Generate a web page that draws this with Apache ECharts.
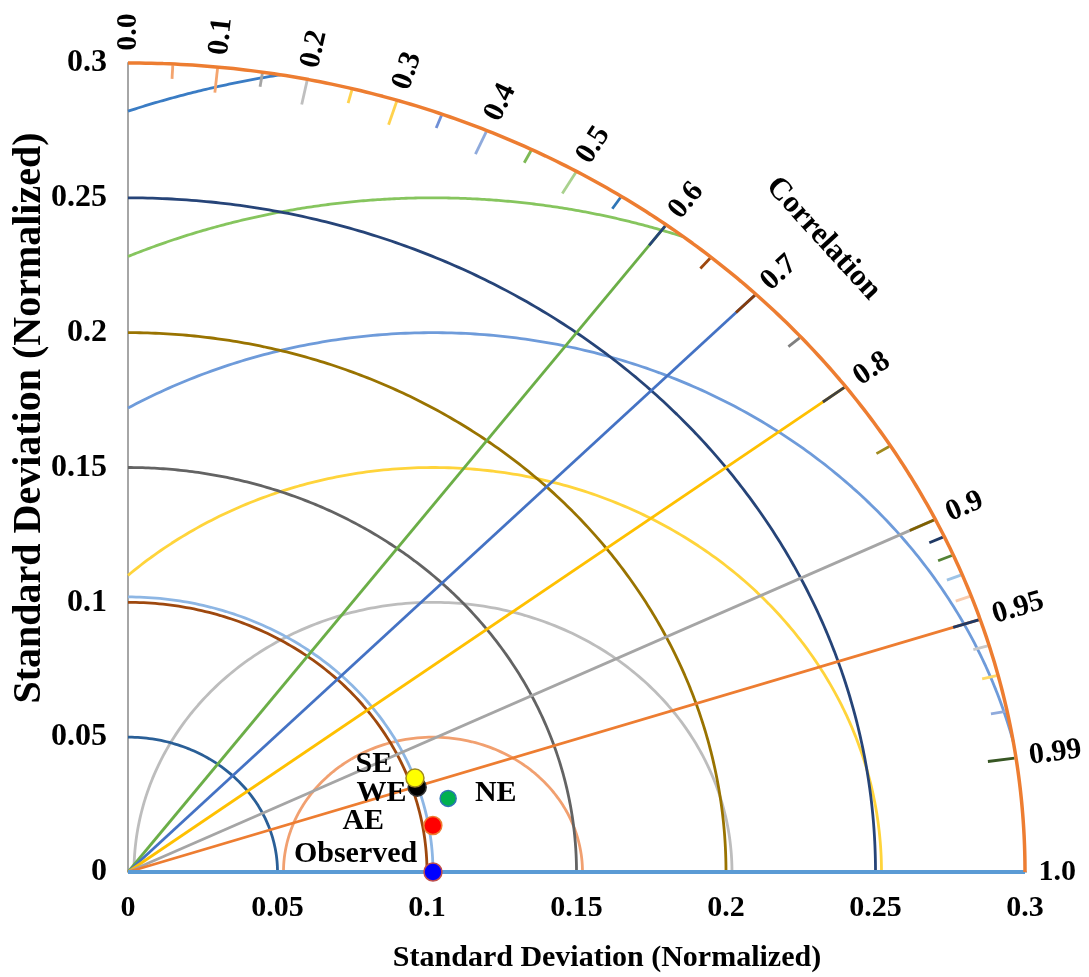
<!DOCTYPE html>
<html><head><meta charset="utf-8">
<script src="https://cdn.jsdelivr.net/npm/echarts@6/dist/echarts.min.js"></script>
<style>html,body{margin:0;padding:0;background:#fff}#c{width:1089px;height:977px}</style>
</head><body><div id="c"></div>
<script>
// ---------------- data ----------------
const axisTicks = [0, 0.05, 0.1, 0.15, 0.2, 0.25, 0.3];
const maxSD = 0.3;
const obsSD = 0.102;
const sdArcs = [0.05, 0.1, 0.15, 0.2, 0.25, 0.3];
const rmsArcs = [0.05, 0.1, 0.15, 0.2, 0.25, 0.3];
const corrLines = [0.6, 0.7, 0.8, 0.9, 0.95];
const corrTicks = [0.05,0.1,0.15,0.2,0.25,0.3,0.35,0.4,0.45,0.5,0.55,0.6,0.65,0.7,0.75,0.8,0.85,0.9,0.91,0.92,0.93,0.94,0.95,0.96,0.97,0.98,0.99];
const corrTickMajor = [0,1,0,1,0,1,0,1,0,1,0,1,0,1,0,1,0,1,0,0,0,0,1,0,0,0,1];
const corrLabelText = ['0.0','0.1','0.2','0.3','0.4','0.5','0.6','0.7','0.8','0.9','0.95','0.99','1.0'];
const corrLabelValues = [0,0.1,0.2,0.3,0.4,0.5,0.6,0.7,0.8,0.9,0.95,0.99,1.0];
const pointNames = ['Observed','AE','NE','WE','SE'];
const pointSD   = [0.102, 0.1034, 0.1105, 0.1017, 0.1021];
const pointCorr = [1.0, 0.986, 0.969, 0.951, 0.940];

// ---------------- styles ----------------
const sdArcColors = ['#2A5F97','#9E480E','#636363','#997300','#264478','#ED7D31'];
const rmsArcColors = ['#F1A070','#BDBDBD','#FFD43B','#6E9BDA','#86C55E','#3A7CC4'];
const corrLineColors = ['#6BAE47','#4472C4','#FFC000','#A5A5A5','#ED7D31'];
const corrTickColors = ['#F4A46E','#F4A46E','#A5A5A5','#BFBFBF','#FFD24D','#FFD24D','#6F8FD6','#8FAADC','#7DB955','#A9D18E','#2E75B6','#264478','#9E480E','#843C0C','#7F7F7F','#404040','#A08A1E','#7F6000','#1F3864','#548235','#9DC3E6','#F8CBAD','#1F3864','#C9C9C9','#FFD966','#8FAADC','#375623'];
const pointFill = ['#0000FF','#FF0000','#00B050','#000000','#FFFF00'];
const pointBorder = ['#C0504D','#ED7D31','#2E75B6','#333333','#A08A1E'];
const pointSize = [18,18,16,18,18];
const pointLabelCfg = [
  {position:'left', distance:6, offset:[0,-18]},
  {position:'left', distance:39, offset:[0,-4]},
  {position:'right', distance:18, offset:[0,-5]},
  {position:'left', distance:1, offset:[0,6]},
  {position:'left', distance:13, offset:[0,-14]}
];
const FONT = '"Liberation Serif","Times New Roman",serif';

// ---------------- geometry helpers ----------------
const N = 240;
function polar(r, c){ const s = Math.sqrt(Math.max(0, 1 - c*c)); return [r*c, r*s]; }
function arcSD(r){
  const pts = [];
  for (let i = 0; i <= N; i++){ const t = Math.PI/2 * i / N; pts.push([r*Math.cos(t), r*Math.sin(t)]); }
  return pts;
}
function arcRMS(R){
  const cmax = Math.min(1, (maxSD*maxSD - obsSD*obsSD - R*R) / (2*obsSD*R));
  const cmin = Math.max(-1, -obsSD / R);
  const p1 = Math.acos(cmax), p2 = Math.acos(cmin);
  const pts = [];
  for (let i = 0; i <= N; i++){ const p = p1 + (p2 - p1) * i / N; pts.push([obsSD + R*Math.cos(p), R*Math.sin(p)]); }
  return pts;
}
function lineSeries(data, color, width, z){
  return {type:'line', data:data, showSymbol:false, symbol:'none', silent:true, clip:false,
          lineStyle:{color:color, width:width}, z:z||2, animation:false};
}

const series = [];
rmsArcs.forEach((R,i)=>series.push(lineSeries(arcRMS(R), rmsArcColors[i], 2.8, 2)));
sdArcs.forEach((r,i)=>{ if (r !== maxSD) series.push(lineSeries(arcSD(r), sdArcColors[i], 2.8, 2)); });
series.push(lineSeries(arcSD(obsSD), '#8DB6E4', 2.8, 2));
corrLines.forEach((c,i)=>series.push(lineSeries([[0,0], polar(maxSD, c)], corrLineColors[i], 2.8, 3)));
series.push(lineSeries([[0,0],[maxSD,0]], '#5B9BD5', 3.8, 3));
series.push(lineSeries([[maxSD,0],[maxSD*1.024,0]], '#A6A6A6', 1.5, 3));
corrTicks.forEach((c,i)=>{
  const L = corrTickMajor[i] ? 0.009 : 0.005;
  series.push(lineSeries([polar(maxSD - 0.0005 - L, c), polar(maxSD - 0.0005, c)], corrTickColors[i], 2.8, 4));
});
series.push(lineSeries(arcSD(maxSD), sdArcColors[sdArcs.indexOf(maxSD)], 3.5, 5));

series.push({
  type:'scatter', z:10, animation:false, silent:true, clip:false,
  data: pointNames.map((n,i)=>({
    name:n, value: polar(pointSD[i], pointCorr[i]),
    symbolSize: pointSize[i],
    itemStyle:{color:pointFill[i], borderColor:pointBorder[i], borderWidth:1.5, opacity:1},
    label:{show:true, formatter:'{b}', position:pointLabelCfg[i].position, distance:pointLabelCfg[i].distance,
           offset:pointLabelCfg[i].offset, fontFamily:FONT, fontWeight:'bold', fontSize:30, color:'#000',
           opacity:1, textBorderWidth:0}
  }))
});

const option = {
  animation:false,
  backgroundColor:'#fff',
  grid:{left:128, top:63, width:897, height:809},
  xAxis:{type:'value', min:axisTicks[0], max:axisTicks[axisTicks.length-1], interval:0.05,
    splitLine:{show:false}, axisTick:{show:false}, axisLine:{show:false},
    axisLabel:{fontFamily:FONT, fontWeight:'bold', fontSize:30, color:'#000', margin:21,
      formatter:(v)=>String(+v.toFixed(2))}},
  yAxis:{type:'value', min:axisTicks[0], max:axisTicks[axisTicks.length-1], interval:0.05,
    splitLine:{show:false}, axisTick:{show:false},
    axisLine:{show:true, lineStyle:{color:'#A6A6A6', width:2}},
    axisLabel:{fontFamily:FONT, fontWeight:'bold', fontSize:32, color:'#000', margin:21,
      formatter:(v)=>String(+v.toFixed(2))}},
  graphic:[
    {type:'text', x:607, y:958, silent:true, style:{text:'Standard Deviation (Normalized)', fontFamily:FONT, fontWeight:'bold', fontSize:30, fill:'#000', align:'center', verticalAlign:'middle'}},
    {type:'text', x:30, y:418, rotation:Math.PI/2, silent:true, style:{text:'Standard Deviation (Normalized)', fontFamily:FONT, fontWeight:'bold', fontSize:40, fill:'#000', align:'center', verticalAlign:'middle'}}
  ],
  series: series
};

const chart = echarts.init(document.getElementById('c'));
chart.setOption(option);

// correlation labels: rotate radially in pixel space
const o = chart.convertToPixel({gridIndex:0}, [0,0]);
function pixAngle(pt){
  const p = chart.convertToPixel({gridIndex:0}, pt);
  return Math.atan2(-(p[1]-o[1]), p[0]-o[0]) * 180 / Math.PI;
}
const labelData = corrLabelValues.map((c,i)=>{
  const pt = polar(0.3045, c);
  return {name:corrLabelText[i], value:pt,
    label:{rotate: pixAngle(pt), align:'left', verticalAlign:'middle'}};
});
const cp = polar(0.3305, Math.cos(Math.PI/4 + 0.005));
labelData.push({name:'Correlation', value:cp,
  label:{rotate: pixAngle(cp) - 90, align:'center', verticalAlign:'middle', fontSize:31}});
series.push({
  type:'scatter', z:12, animation:false, silent:true, clip:false, symbolSize:0.001,
  itemStyle:{color:'rgba(0,0,0,0)', opacity:1},
  label:{show:true, formatter:'{b}', position:'inside', fontFamily:FONT, fontWeight:'bold', fontSize:30,
         color:'#000', opacity:1, textBorderWidth:0},
  labelLayout:{hideOverlap:false},
  data: labelData
});
chart.setOption({series: series});
</script>
</body></html>
